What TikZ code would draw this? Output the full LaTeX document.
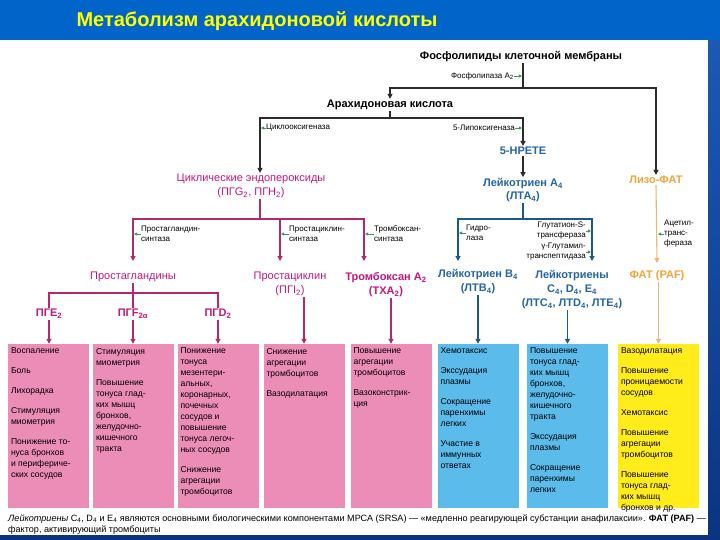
\documentclass[tikz,border=0pt]{standalone}
\usepackage{fontspec}
\setmainfont{Liberation Sans}
\usetikzlibrary{arrows.meta,calc}

\definecolor{cHead}{HTML}{0064C8}
\definecolor{cSide}{HTML}{1C5CB8}
\definecolor{cSideDark}{HTML}{0B3480}
\definecolor{cTitle}{HTML}{FFFF00}
\definecolor{cLine}{HTML}{2B2B2B}
\definecolor{cPinkText}{HTML}{C8167E}
\definecolor{cPinkLine}{HTML}{B4286E}
\definecolor{cPinkBox}{HTML}{EC8DB7}
\definecolor{cBlueText}{HTML}{2565A5}
\definecolor{cBlueLine}{HTML}{1E5886}
\definecolor{cBlueBox}{HTML}{5BBBEA}
\definecolor{cOrange}{HTML}{F2A33A}
\definecolor{cOrangeLine}{HTML}{E8B878}
\definecolor{cYellowBox}{HTML}{FFEC1A}
\definecolor{cEnz}{HTML}{3C9C52}

\newcommand{\sub}[1]{\textsubscript{#1}}

\begin{document}
\begin{tikzpicture}[x=1pt, y=-1pt,
blackline/.style={draw=cLine, line width=1.3pt},
pinkline/.style={draw=cPinkLine, line width=1.1pt},
blueline/.style={draw=cBlueLine, line width=1.3pt},
orangeline/.style={draw=cOrangeLine, line width=1.1pt},
arr/.style={-{Triangle[width=5pt,length=5pt]}},
enz/.style={draw=cEnz, line width=0.8pt, -{Triangle[width=3.2pt,length=3.2pt]}, shorten >=1pt},
mainname/.style={font=\fontsize{11}{13}\selectfont\bfseries, text=black, inner sep=1pt},
pinkname/.style={font=\fontsize{11}{14}\selectfont, text=cPinkText, align=center, inner sep=1pt},
pinkbold/.style={pinkname, font=\fontsize{11}{14}\selectfont\bfseries},
bluename/.style={font=\fontsize{11}{14}\selectfont\bfseries, text=cBlueText, align=center, inner sep=1pt},
orangename/.style={font=\fontsize{11}{14}\selectfont\bfseries, text=cOrange, align=center, inner sep=1pt},
enzyme/.style={font=\fontsize{8}{10}\selectfont, text=black, inner sep=0pt},
effectbox/.style={rectangle, minimum width=81pt, minimum height=164pt, inner sep=0pt},
effect/.style={font=\fontsize{8.6}{11}\selectfont, text=black, align=left, anchor=north west, inner sep=0pt},
note/.style={font=\fontsize{9.1}{11}\selectfont, text=black, anchor=west, inner sep=0pt},
]
% slide background
\useasboundingbox (0,0) rectangle (720,540);
\shade[top color=cSide, bottom color=cSideDark] (0,0) rectangle (720,540);
\fill[cHead] (0,0) rectangle (720,40);
\fill[white] (0,40) rectangle (708,535);
\node[font=\fontsize{20}{24}\selectfont\bfseries, text=cTitle] (title) at (257,21) {Метаболизм арахидоновой кислоты};

% first level
\node[mainname] (phospho) at (521,57) {Фосфолипиды клеточной мембраны};
\node[mainname] (arach) at (390,105) {Арахидоновая кислота};
\node[pinkname] (cyclic) at (251,186) {Циклические эндопероксиды\\(ПГG\sub{2}, ПГH\sub{2})};
\node[bluename] (hpete) at (523,151) {5-HPETE};
\node[bluename, font=\fontsize{11}{13}\selectfont\bfseries] (lta) at (523,190) {Лейкотриен A\sub{4}\\(ЛТА\sub{4})};
\node[orangename] (lyso) at (656,180) {Лизо-ФАТ};

% second level
\node[pinkname] (pgs) at (133,277) {Простагландины};
\node[pinkname] (pgi) at (290,284) {Простациклин\\(ПГI\sub{2})};
\node[pinkbold] (txa) at (386,285) {Тромбоксан A\sub{2}\\(TXA\sub{2})};
\node[bluename] (ltb) at (478,282) {Лейкотриен B\sub{4}\\(ЛТВ\sub{4})};
\node[bluename] (ltc) at (572,290) {Лейкотриены\\C\sub{4}, D\sub{4}, E\sub{4}\\(ЛТС\sub{4}, ЛТD\sub{4}, ЛТЕ\sub{4})};
\node[orangename] (paf) at (657,276) {ФАТ (PAF)};
\node[pinkbold] (pge) at (49,314) {ПГE\sub{2}};
\node[pinkbold] (pgf) at (133,314) {ПГF\sub{2α}};
\node[pinkbold] (pgd) at (218,314) {ПГD\sub{2}};

% enzymes
\node[enzyme, anchor=east] (pla) at (514,76) {Фосфолипаза A\sub{2}};
\node[enzyme, anchor=west] (cox) at (266,128) {Циклооксигеназа};
\node[enzyme, anchor=east] (lox) at (515,128) {5-Липоксигеназа};
\node[enzyme, anchor=west, align=left] (pgsyn) at (141,234) {Простагландин-\\синтаза};
\node[enzyme, anchor=west, align=left] (pcsyn) at (289,234) {Простациклин-\\синтаза};
\node[enzyme, anchor=west, align=left] (txsyn) at (374,234) {Тромбоксан-\\синтаза};
\node[enzyme, anchor=west, align=left] (hydro) at (466,233) {Гидро-\\лаза};
\node[enzyme, anchor=east, align=right] (gst) at (586,231) {Глутатион-S-\\трансфераза};
\node[enzyme, anchor=east, align=right] (ggt) at (586,252) {γ-Глутамил-\\транспептидаза};
\node[enzyme, anchor=west, align=left] (acet) at (664,234) {Ацетил-\\транс-\\фераза};

% junctions and arrow tips
\coordinate (j1) at (523,88);
\coordinate (j2) at (390,118);
\coordinate (c1) at (260,118);
\coordinate (j3) at (260,219);
\coordinate (j4) at (523,219);
\coordinate (j5) at (133,293);
\coordinate (tPGS) at (133,261);
\coordinate (tPGI) at (280,261);
\coordinate (tTXA) at (364,261);
\coordinate (tLTB) at (458,261);
\coordinate (tLTC) at (592,261);
\coordinate (tPAF) at (657,263);

% main routes
\draw[blackline] (phospho.south -| j1) -- (j1);
\draw[blackline, arr] (j1) -| (arach.north);
\draw[blackline, arr] (j1) -| (lyso.north);
\draw[blackline] (arach.south) -- (j2);
\draw[blackline, arr] (j2) -- (c1) -- (c1 |- cyclic.north);
\draw[blackline, arr] (j2) -| (hpete.north);
\draw[blackline, arr] (hpete.south) -- (lta.north);

\draw[pinkline] (c1 |- cyclic.south) -- (j3);
\draw[pinkline, arr] (j3) -| (tPGS);
\draw[pinkline, arr] (j3) -| (tPGI);
\draw[pinkline, arr] (j3) -| (tTXA);
\draw[pinkline] (pgs.south) -- (pgf.north);
\draw[pinkline] (j5) -| (pge.north);
\draw[pinkline] (j5) -| (pgd.north);

\draw[blueline] (lta.south) -- (j4);
\draw[blueline, arr] (j4) -| (tLTB);
\draw[blueline, arr] (j4) -| (tLTC);

\draw[orangeline, arr] (lyso.south) -- (tPAF);

% enzyme marks
\draw[enz] (pla.east) -- (pla.east -| j1);
\draw[enz] (cox.west) -- (cox.west -| c1);
\draw[enz] (lox.east) -- (lox.east -| j1);
\draw[enz] (pgsyn.west) -- (pgsyn.west -| tPGS);
\draw[enz] (pcsyn.west) -- (pcsyn.west -| tPGI);
\draw[enz] (txsyn.west) -- (txsyn.west -| tTXA);
\draw[enz] (hydro.west) -- (hydro.west -| tLTB);
\draw[enz] (gst.east) -- (gst.east -| tLTC);
\draw[enz] (ggt.east) -- (ggt.east -| tLTC);
\draw[enz] (acet.west) -- (acet.west -| tPAF);

% effect boxes
\node[effectbox, fill=cPinkBox] (ePGE) at (48.5,426) {};
\node[effectbox, fill=cPinkBox] (ePGF) at (133.5,426) {};
\node[effectbox, fill=cPinkBox] (ePGD) at (218,426) {};
\node[effectbox, fill=cPinkBox] (ePGI) at (304,426) {};
\node[effectbox, fill=cPinkBox] (eTXA) at (391,426) {};
\node[effectbox, fill=cBlueBox] (eLTB) at (478,426) {};
\node[effectbox, fill=cBlueBox] (eLTC) at (567.5,426) {};
\node[effectbox, fill=cYellowBox] (ePAF) at (658.5,426) {};

\node[effect] at ($(ePGE.north west)+(3,4)$) {Воспаление\\[9pt]Боль\\[9pt]Лихорадка\\[9pt]Стимуляция\\миометрия\\[9pt]Понижение то-\\нуса бронхов\\и перифериче-\\ских сосудов};
\node[effect] at ($(ePGF.north west)+(3,4)$) {Стимуляция\\миометрия\\[9pt]Повышение\\тонуса глад-\\ких мышц\\бронхов,\\желудочно-\\кишечного\\тракта};
\node[effect] at ($(ePGD.north west)+(3,4)$) {Понижение\\тонуса\\мезентери-\\альных,\\коронарных,\\почечных\\сосудов и\\повышение\\тонуса легоч-\\ных сосудов\\[9pt]Снижение\\агрегации\\тромбоцитов};
\node[effect] at ($(ePGI.north west)+(3,4)$) {Снижение\\агрегации\\тромбоцитов\\[9pt]Вазодилатация};
\node[effect] at ($(eTXA.north west)+(3,4)$) {Повышение\\агрегации\\тромбоцитов\\[9pt]Вазоконстрик-\\ция};
\node[effect] at ($(eLTB.north west)+(3,4)$) {Хемотаксис\\[9pt]Экссудация\\плазмы\\[9pt]Сокращение\\паренхимы\\легких\\[9pt]Участие в\\иммунных\\ответах};
\node[effect] at ($(eLTC.north west)+(3,4)$) {Повышение\\тонуса глад-\\ких мышц\\бронхов,\\желудочно-\\кишечного\\тракта\\[9pt]Экссудация\\плазмы\\[9pt]Сокращение\\паренхимы\\легких};
\node[effect] at ($(ePAF.north west)+(3,4)$) {Вазодилатация\\[9pt]Повышение\\проницаемости\\сосудов\\[9pt]Хемотаксис\\[9pt]Повышение\\агрегации\\тромбоцитов\\[9pt]Повышение\\тонуса глад-\\ких мышц\\бронхов и др.};

% into the boxes
\draw[pinkline, arr] (pge.south) -- (pge.south |- ePGE.north);
\draw[pinkline, arr] (pgf.south) -- (pgf.south |- ePGF.north);
\draw[pinkline, arr] (pgd.south) -- (pgd.south |- ePGD.north);
\draw[pinkline, arr] (pgi.south -| ePGI.north) -- (ePGI.north);
\draw[pinkline, arr] (txa.south -| eTXA.north) -- (eTXA.north);
\draw[blueline, arr] (ltb.south -| eLTB.north) -- (eLTB.north);
\draw[blueline, arr] (ltc.south -| eLTC.north) -- (eLTC.north);
\draw[orangeline, arr] (paf.south -| ePAF.north) -- (ePAF.north);

% footnote
\node[note] (note1) at (8,519) {\textit{Лейкотриены} C\sub{4}, D\sub{4} и E\sub{4} являются основными биологическими компонентами МРСА (SRSA) — «медленно реагирующей субстанции анафилаксии». \textbf{ФАТ (PAF)} —};
\node[note] (note2) at (8,530) {фактор, активирующий тромбоциты};
\end{tikzpicture}
\end{document}
